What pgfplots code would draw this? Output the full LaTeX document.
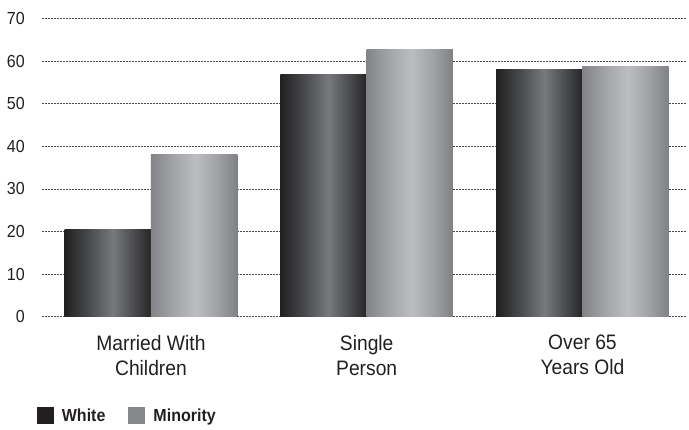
\documentclass[border=0pt]{standalone}
\usepackage{fontspec}
\setmainfont{Liberation Sans}[FakeStretch=0.92]
\usepackage{pgfplots}
\pgfplotsset{compat=1.18}

\definecolor{txt}{HTML}{231F20}
\definecolor{gridc}{HTML}{4A4A4A}
% cylinder-like shading for the two series
\definecolor{wb0}{HTML}{202020}
\definecolor{wb1}{HTML}{46474A}
\definecolor{wb2}{HTML}{78797D}
\definecolor{wb3}{HTML}{4E4F52}
\definecolor{wb4}{HTML}{262626}
\definecolor{mb0}{HTML}{838488}
\definecolor{mb1}{HTML}{A3A4A8}
\definecolor{mb2}{HTML}{BCBDC1}
\definecolor{mb3}{HTML}{A2A3A7}
\definecolor{mb4}{HTML}{808185}
\definecolor{legw}{HTML}{231F20}
\definecolor{legm}{HTML}{86878B}

\pgfdeclarehorizontalshading{whitebar}{100bp}{color(0bp)=(wb0); color(25bp)=(wb0);
  color(38bp)=(wb1); color(53bp)=(wb2); color(64bp)=(wb3); color(75bp)=(wb4); color(100bp)=(wb4)}
\pgfdeclarehorizontalshading{minoritybar}{100bp}{color(0bp)=(mb0); color(25bp)=(mb0);
  color(38bp)=(mb1); color(51bp)=(mb2); color(63bp)=(mb3); color(75bp)=(mb4); color(100bp)=(mb4)}

\pgfplotsset{
  whiteseries/.style={ybar, bar width=0.4, bar shift=-0.2, draw=none, shading=whitebar, forget plot},
  minorityseries/.style={ybar, bar width=0.4, bar shift=0.2, draw=none, shading=minoritybar, forget plot},
}

\begin{document}
\begin{tikzpicture}
\useasboundingbox (-42bp,-113.3bp) rectangle (647bp,316.7bp);
\begin{axis}[
  scale only axis,
  width=644bp, height=298bp,
  xmin=-0.505, xmax=2.48,
  ymin=0, ymax=70,
  ytick={0,10,...,70},
  xtick={0,1,2},
  xticklabels={{Married With\\Children},{Single\\Person},{Over 65\\Years Old}},
  axis line style={draw=none},
  major tick length=0pt,
  ymajorgrids,
  major grid style={gridc, line width=0.8bp, dash pattern=on 0.8bp off 0.7bp},
  /pgf/number format/assume math mode=true,
  yticklabel style={font=\fontsize{17.5}{20}\selectfont, text=txt, anchor=east, inner sep=0pt, xshift=-17bp},
  xticklabel style={font=\fontsize{21}{25.5}\selectfont, text=txt, align=center, anchor=north, inner sep=0pt, yshift=-18bp},
  legend columns=2,
  legend style={at={(axis description cs:-0.008,-0.332)}, anchor=west, draw=none, fill=none,
    inner sep=0pt, outer sep=0pt,
    font=\bfseries\fontsize{17.5}{20}\selectfont, text=txt,
    /tikz/every odd column/.append style={column sep=6bp},
    /tikz/every even column/.append style={column sep=21bp}},
  legend image code/.code={\fill[#1, draw=none] (0bp,-8.5bp) rectangle (17bp,8.5bp);},
]
% one path per bar so that each bar gets its own shading
\addplot[whiteseries] coordinates {(0,20.4)};
\addplot[whiteseries] coordinates {(1,56.8)};
\addplot[whiteseries] coordinates {(2,58.0)};
\addplot[minorityseries] coordinates {(0,38.2)};
\addplot[minorityseries] coordinates {(1,62.7)};
\addplot[minorityseries] coordinates {(2,58.7)};
\addlegendimage{fill=legw, draw=none}
\addlegendentry{White}
\addlegendimage{fill=legm, draw=none}
\addlegendentry{Minority}
\end{axis}
\end{tikzpicture}
\end{document}
